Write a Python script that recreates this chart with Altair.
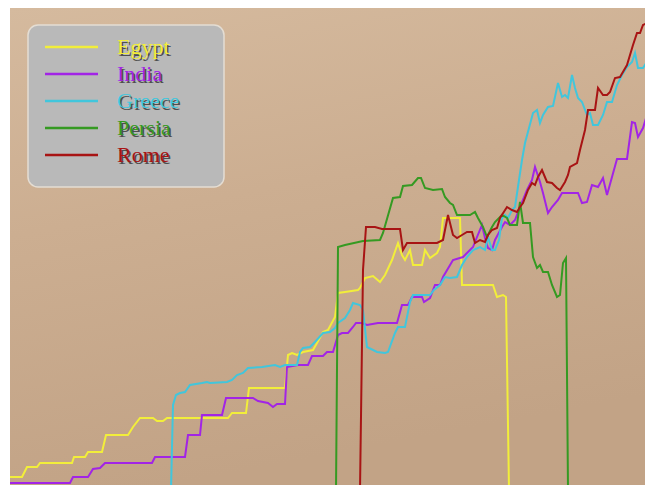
import altair as alt
import pandas as pd

NAMES = ["Egypt", "India", "Greece", "Persia", "Rome"]
COLORS = ["#f2ee3a", "#a224e6", "#41c6dc", "#359a22", "#a81414"]

EGYPT = [(10, 13), (22, 13), (27, 23), (37, 23), (40, 27), (72, 27), (74, 33), (85, 33),
         (88, 38), (102, 38), (106, 55), (128, 55), (133, 63), (140, 72), (153, 72),
         (157, 69), (163, 69), (167, 72), (228, 72), (232, 77), (246, 77), (249, 102),
         (285, 102), (288, 135), (292, 137), (297, 135), (303, 138), (313, 140), (317, 147),
         (323, 158), (328, 160), (335, 173), (338, 197), (345, 198), (358, 200), (360, 202),
         (365, 212), (373, 214), (380, 208), (385, 215), (392, 230), (398, 247), (402, 235),
         (405, 230), (410, 240), (413, 225), (422, 225), (425, 240), (430, 232), (437, 237),
         (440, 243), (443, 272), (460, 272), (462, 205), (493, 205), (497, 193), (503, 195),
         (506, 193), (509, 0)]

INDIA = [(10, 7), (70, 7), (73, 13), (88, 13), (93, 21), (100, 22), (105, 27), (152, 27),
         (155, 33), (185, 33), (188, 55), (200, 55), (202, 75), (222, 75), (226, 92),
         (253, 92), (258, 89), (268, 87), (273, 83), (277, 86), (285, 86), (287, 123),
         (298, 125), (308, 125), (312, 134), (323, 134), (327, 138), (333, 138), (338, 155),
         (342, 157), (348, 157), (353, 163), (356, 167), (362, 167), (367, 165), (378, 167),
         (397, 167), (402, 185), (408, 185), (412, 193), (422, 193), (424, 188), (430, 192),
         (435, 205), (440, 205), (443, 213), (453, 230), (463, 233), (473, 243), (477, 253),
         (482, 265), (485, 252), (488, 242), (492, 240), (495, 250), (502, 263), (505, 268),
         (510, 265), (515, 270), (520, 283), (527, 300), (532, 310), (535, 323), (540, 308),
         (543, 297), (548, 277), (552, 283), (558, 290), (562, 297), (578, 297), (582, 287),
         (587, 288), (592, 305), (598, 303), (603, 312), (607, 295), (612, 313), (617, 331),
         (627, 331), (632, 368), (635, 367), (638, 353), (643, 362), (647, 375), (652, 377)]

GREECE = [(171, 0), (173, 85), (176, 95), (180, 97), (185, 98), (190, 105), (202, 107),
          (207, 108), (210, 107), (227, 108), (232, 110), (237, 115), (243, 117), (248, 122),
          (262, 123), (275, 125), (280, 123), (285, 125), (297, 125), (300, 138), (303, 142),
          (310, 143), (315, 148), (323, 157), (330, 158), (335, 162), (338, 167), (345, 172),
          (350, 180), (353, 187), (360, 185), (363, 180), (367, 143), (377, 138), (385, 137),
          (388, 138), (395, 157), (398, 163), (405, 163), (410, 188), (413, 195), (430, 195),
          (434, 200), (440, 205), (445, 213), (450, 212), (457, 213), (462, 225), (467, 233),
          (473, 240), (480, 243), (485, 240), (488, 253), (492, 240), (495, 240), (499, 250),
          (502, 272), (505, 275), (508, 272), (512, 280), (515, 283), (519, 310), (522, 330),
          (525, 347), (533, 377), (537, 380), (540, 367), (543, 375), (548, 383), (553, 384),
          (558, 407), (562, 393), (565, 395), (568, 392), (572, 415), (575, 402), (578, 392),
          (582, 388), (587, 375), (590, 377), (593, 365), (598, 365), (603, 375), (607, 388),
          (612, 388), (617, 405), (622, 415), (627, 423), (632, 428), (635, 437), (638, 422),
          (643, 422), (648, 430), (652, 440)]

PERSIA = [(336, 0), (338, 243), (345, 245), (363, 249), (380, 250), (383, 257), (393, 292),
          (400, 293), (403, 304), (412, 305), (418, 312), (421, 312), (425, 302), (433, 300),
          (442, 301), (445, 293), (450, 287), (453, 285), (457, 275), (470, 275), (475, 278),
          (478, 272), (483, 263), (487, 253), (492, 263), (495, 268), (502, 275), (507, 272),
          (510, 265), (517, 265), (520, 288), (523, 267), (530, 267), (533, 233), (537, 222),
          (540, 225), (543, 218), (548, 218), (552, 205), (557, 193), (560, 195), (563, 227),
          (566, 232), (568, 0)]

ROME = [(360, 0), (363, 220), (366, 263), (375, 263), (382, 261), (400, 261), (403, 240),
        (407, 247), (437, 247), (443, 250), (448, 275), (453, 255), (457, 252), (462, 255),
        (467, 258), (472, 258), (475, 247), (480, 250), (485, 248), (488, 255), (492, 260),
        (497, 262), (500, 272), (507, 283), (512, 280), (517, 278), (520, 283), (523, 287),
        (528, 300), (532, 307), (535, 305), (538, 313), (542, 320), (547, 308), (552, 307),
        (557, 302), (560, 300), (565, 308), (568, 315), (570, 323), (577, 327), (580, 340),
        (585, 360), (588, 380), (595, 380), (598, 402), (603, 395), (607, 395), (610, 398),
        (615, 412), (620, 413), (627, 425), (633, 445), (637, 457), (640, 457), (643, 465),
        (647, 467), (652, 482)]

rows = []
for name, pts in zip(NAMES, [EGYPT, INDIA, GREECE, PERSIA, ROME]):
    for i, (t, v) in enumerate(pts):
        rows.append({"civ": name, "turn": t, "score": v, "idx": i})
df = pd.DataFrame(rows)

W, H = 635, 477
color_scale = alt.Scale(domain=NAMES, range=COLORS)
one = pd.DataFrame({"a": [0]})

background = alt.Chart(one).mark_rect(
    fill={"gradient": "linear", "x1": 0, "y1": 0, "x2": 0.25, "y2": 1,
          "stops": [{"offset": 0, "color": "#d5ba9e"},
                    {"offset": 0.45, "color": "#ccae91"},
                    {"offset": 1, "color": "#c2a386"}]}
).encode(x=alt.value(0), x2=alt.value(W), y=alt.value(0), y2=alt.value(H))

lines = alt.Chart(df).mark_line(strokeWidth=2, clip=True).encode(
    x=alt.X("turn:Q", scale=alt.Scale(domain=[10, 10 + W], nice=False, zero=False), axis=None),
    y=alt.Y("score:Q", scale=alt.Scale(domain=[5, 482], nice=False, zero=False), axis=None),
    color=alt.Color("civ:N", scale=color_scale, legend=None),
    order=alt.Order("idx:Q"),
)

leg_df = pd.DataFrame({"civ": NAMES, "pos": list(range(len(NAMES)))})

box = alt.Chart(one).mark_rect(
    cornerRadius=10, fill="#b9b9b9", stroke="#e4ddd3", strokeWidth=1.5
).encode(x=alt.value(18), x2=alt.value(214), y=alt.value(17), y2=alt.value(179))

leg_base = alt.Chart(leg_df).transform_calculate(ly="39 + 27 * datum.pos")

sym = leg_base.mark_rule(strokeWidth=2.5).encode(
    x=alt.value(35), x2=alt.value(88),
    y=alt.Y("ly:Q", scale=None, axis=None),
    color=alt.Color("civ:N", scale=color_scale, legend=None),
)

shadow = leg_base.mark_text(
    align="left", baseline="middle", font="Liberation Serif", fontSize=22,
    dx=1.5, dy=1.5, color="#222222", opacity=0.7
).encode(x=alt.value(107), y=alt.Y("ly:Q", scale=None, axis=None), text="civ:N")

labels = leg_base.mark_text(
    align="left", baseline="middle", font="Liberation Serif", fontSize=22
).encode(
    x=alt.value(107), y=alt.Y("ly:Q", scale=None, axis=None), text="civ:N",
    color=alt.Color("civ:N", scale=color_scale, legend=None),
)

chart = alt.layer(background, lines, box, sym, shadow, labels).properties(
    width=W, height=H,
    padding={"left": 2, "right": 0, "top": 0, "bottom": 0},
    background="white",
).configure_view(stroke=None)

chart.save("out.html", embed_options={"renderer": "svg", "actions": False})
